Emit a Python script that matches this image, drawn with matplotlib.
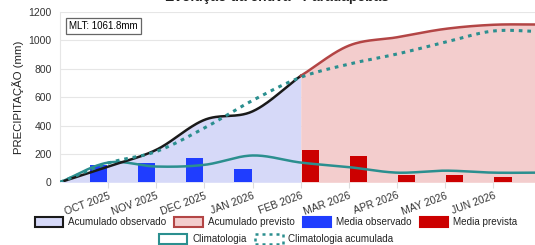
import numpy as np
import matplotlib
matplotlib.use("Agg")
import matplotlib.pyplot as plt
from matplotlib.patches import Patch

plt.rcParams['font.family'] = ['Liberation Sans', 'DejaVu Sans']

# ---- data ----
month_labels = ['OCT 2025', 'NOV 2025', 'DEC 2025', 'JAN 2026', 'FEB 2026',
                'MAR 2026', 'APR 2026', 'MAY 2026', 'JUN 2026']
obs_monthly = [123, 137, 170, 92]            # OCT..JAN
prev_monthly = [227, 187, 52, 54, 40]        # FEB..JUN
obs_cum = [0, 111, 229, 440, 500, 750]       # points 0..5
prev_cum = [750, 963, 1022, 1081, 1110, 1112]  # points 5..10
clim = [0, 139, 111, 123, 189, 139, 107, 68, 82, 68, 68]        # points 0..10
clim_cum = [0, 135, 217, 383, 577, 740, 833, 904, 987, 1066, 1062]
mlt_text = 'MLT: 1061.8mm'
title_text = 'Evolução da chuva - Parauapebas'


def smooth(xs, ys, n=30):
    xs = np.asarray(xs, float)
    ys = np.asarray(ys, float)
    m = np.zeros_like(ys)
    m[1:-1] = (ys[2:] - ys[:-2]) / (xs[2:] - xs[:-2])
    m[0] = (ys[1] - ys[0]) / (xs[1] - xs[0])
    m[-1] = (ys[-1] - ys[-2]) / (xs[-1] - xs[-2])
    ox, oy = [], []
    for i in range(len(xs) - 1):
        h = xs[i + 1] - xs[i]
        t = np.linspace(0, 1, n, endpoint=(i == len(xs) - 2))
        h00 = 2 * t**3 - 3 * t**2 + 1
        h10 = t**3 - 2 * t**2 + t
        h01 = -2 * t**3 + 3 * t**2
        h11 = t**3 - t**2
        ox.append(xs[i] + t * h)
        oy.append(h00 * ys[i] + h10 * h * m[i] + h01 * ys[i + 1] + h11 * h * m[i + 1])
    return np.concatenate(ox), np.concatenate(oy)


fig = plt.figure(figsize=(5.35, 2.45), dpi=100)
ax = fig.add_axes([60 / 535, 1 - 182.3 / 245, 1 - 60 / 535, (182.3 - 12) / 245])

teal = '#2b8f8f'
x_obs = np.arange(len(obs_cum))
x_prev = np.arange(len(obs_cum) - 1, len(obs_cum) - 1 + len(prev_cum))
x_clim = np.arange(len(clim))

sx, sy = smooth(x_obs, obs_cum)
ax.fill_between(sx, 0, sy, color='#d6d9f8', zorder=1, lw=0)
px, py = smooth(x_prev, prev_cum)
ax.fill_between(px, 0, py, color='#f3cdcd', zorder=1, lw=0)

bw = 0.36
ax.bar(np.arange(1, 1 + len(obs_monthly)) - 0.2, obs_monthly, width=bw,
       color='#1f3dff', zorder=3)
ax.bar(np.arange(1 + len(obs_monthly), 1 + len(obs_monthly) + len(prev_monthly)) + 0.2,
       prev_monthly, width=bw, color='#cc0000', zorder=3)

cx, cy = smooth(x_clim, clim)
ax.plot(cx, cy, color=teal, lw=1.8, zorder=4)
ax.plot(sx, sy, color='#1a1a1a', lw=1.8, zorder=5)
ax.plot(px, py, color='#b34545', lw=1.8, zorder=5)
ccx, ccy = smooth(x_clim, clim_cum)
ax.plot(ccx, ccy, color=teal, lw=2.2, ls=(0, (1.2, 1.6)), zorder=6)

ax.set_xlim(0, 9.865)
ax.set_ylim(0, 1200)
ax.set_yticks(range(0, 1201, 200))
ax.set_xticks(np.arange(1, 1 + len(month_labels)))
ax.set_xticklabels(month_labels, rotation=20, ha='right', rotation_mode='anchor')
ax.tick_params(axis='x', length=4, color='#dddddd', labelsize=7.5, labelcolor='#333333', pad=2)
ax.tick_params(axis='y', length=0, labelsize=7.5, labelcolor='#333333', pad=6)
ax.grid(axis='y', color='#e6e6e6', lw=0.8, zorder=0)
ax.set_axisbelow(True)
for s in ['top', 'right', 'bottom']:
    ax.spines[s].set_visible(False)
ax.spines['left'].set_color('#e6e6e6')
ax.set_ylabel('PRECIPITAÇÃO (mm)', fontsize=8.2, color='#222222', labelpad=3)

ax.text(0.019, 0.948, mlt_text, transform=ax.transAxes, fontsize=7, va='top', ha='left',
        zorder=10, bbox=dict(boxstyle='square,pad=0.3', fc='white', ec='#666666', lw=0.9))

fig.text(277 / 535, 1 - 1.5 / 245, title_text, ha='center', va='baseline',
         fontsize=10, fontweight='bold', color='#222222')

h1 = [Patch(fc='#d6d9f8', ec='#1a1a1a', lw=1.5),
      Patch(fc='#f3cdcd', ec='#b34545', lw=1.5),
      Patch(fc='#1f3dff', ec='#1f3dff', lw=1.5),
      Patch(fc='#cc0000', ec='#cc0000', lw=1.5)]
l1 = ['Acumulado observado', 'Acumulado previsto', 'Media observado', 'Media prevista']
leg1 = fig.legend(h1, l1, loc='center', bbox_to_anchor=(276 / 535, 1 - 222 / 245), ncol=4,
                  frameon=False, fontsize=7.1, handlelength=2.9, handleheight=1.15,
                  handletextpad=0.5, columnspacing=0.8, borderaxespad=0, borderpad=0)
h2 = [Patch(fc='white', ec=teal, lw=1.5),
      Patch(fc='white', ec=teal, lw=1.8, ls=(0, (1.2, 1.6)))]
l2 = ['Climatologia', 'Climatologia acumulada']
leg2 = fig.legend(h2, l2, loc='center', bbox_to_anchor=(276 / 535, 1 - 239 / 245), ncol=2,
                  frameon=False, fontsize=7.1, handlelength=2.9, handleheight=1.15,
                  handletextpad=0.5, columnspacing=0.8, borderaxespad=0, borderpad=0)
for lg in (leg1, leg2):
    for t in lg.get_texts():
        t.set_color('#222222')

fig.savefig('out.png', dpi=100)
